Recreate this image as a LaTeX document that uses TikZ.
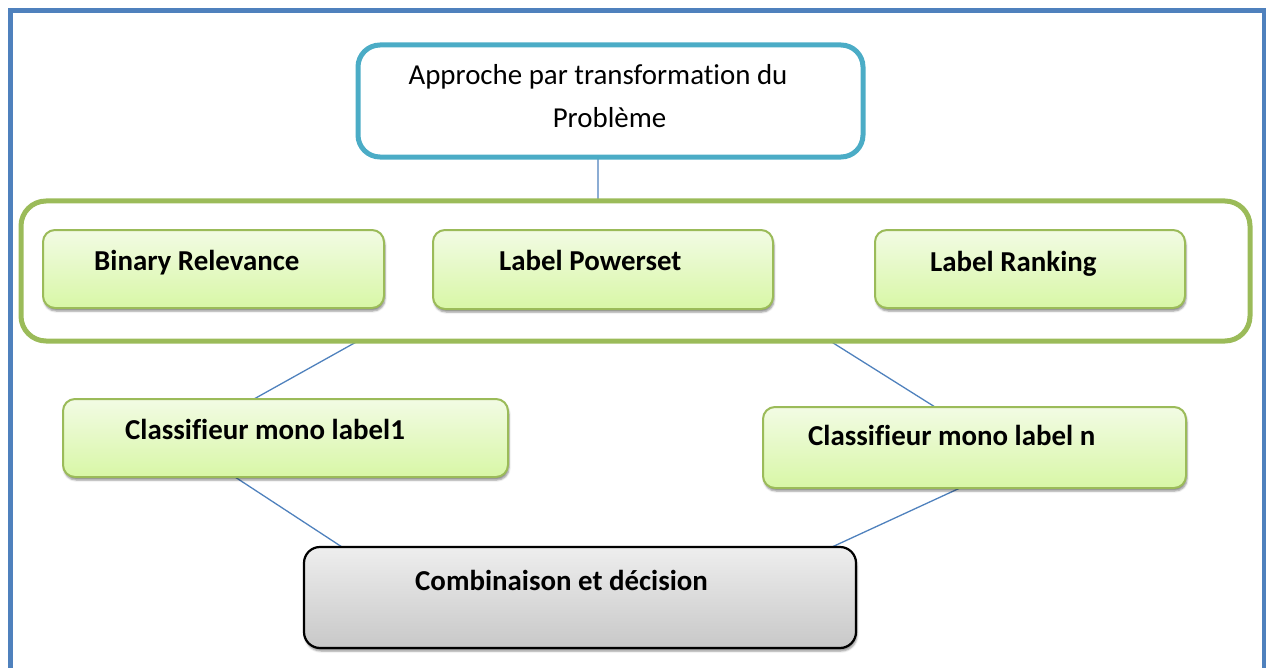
\documentclass[tikz,border=0pt]{standalone}
\usepackage{fontspec}
\setmainfont{Carlito}[Ligatures=NoCommon]
\usetikzlibrary{shadows.blur,backgrounds}

\definecolor{frameblue}{RGB}{79,129,189}
\definecolor{titlecyan}{RGB}{75,172,198}
\definecolor{olivegreen}{RGB}{155,187,89}
\definecolor{greentop}{RGB}{242,251,228}
\definecolor{greenbot}{RGB}{216,247,166}
\definecolor{graytop}{RGB}{238,238,238}
\definecolor{graybot}{RGB}{200,200,200}

\tikzset{
  box/.style={rectangle, anchor=north west, inner sep=0pt, outer sep=0pt},
  softshadow/.style={blur shadow={shadow xshift=1bp, shadow yshift=-3bp,
      shadow blur steps=4, shadow blur radius=2bp, shadow opacity=45}},
  greenbox/.style={box, rounded corners=12bp, draw=olivegreen, line width=2bp,
      top color=greentop, bottom color=greenbot, softshadow},
  graybox/.style={box, rounded corners=16bp, draw=black, line width=2.2bp,
      top color=graytop, bottom color=graybot, softshadow},
  txt/.style={anchor=base west, inner sep=0pt, font=\fontsize{29}{35}\selectfont},
  btxt/.style={txt, font=\fontsize{29}{35}\selectfont\bfseries},
  link/.style={draw=frameblue, line width=1.3bp},
}

\begin{document}
\begin{tikzpicture}[x=1bp, y=-1bp]
  \path[use as bounding box, clip] (0,0) rectangle (1266,668);

  % page frame, open at the bottom
  \draw[frameblue, line width=5bp] (10.5,700) -- (10.5,10.5) -- (1264,10.5) -- (1264,700);

  % title box
  \node[box, draw=titlecyan, line width=5bp, rounded corners=22bp,
        minimum width=505bp, minimum height=112bp] (top) at (358,45) {};
  \node[txt, anchor=base] (t1) at (598,85) {Approche par transformation du};
  \node[txt, anchor=base] (t2) at (609.5,128) {Problème};

  % group of transformation methods
  \node[box, draw=olivegreen, line width=5bp, rounded corners=25bp,
        minimum width=1229bp, minimum height=140bp] (grp) at (21,201) {};
  \node[greenbox, minimum width=341bp, minimum height=78bp] (br) at (43,230) {};
  \node[greenbox, minimum width=340bp, minimum height=79bp] (lp) at (433,230) {};
  \node[greenbox, minimum width=310bp, minimum height=78bp] (lr) at (875,230) {};
  \node[btxt] (brt) at (94,270) {Binary Relevance};
  \node[btxt] (lpt) at (499,270) {Label Powerset};
  \node[btxt] (lrt) at (930,271) {Label Ranking};

  % single-label classifiers
  \node[greenbox, minimum width=445bp, minimum height=78bp] (c1) at (63,399) {};
  \node[greenbox, minimum width=423bp, minimum height=81bp] (cn) at (763,407) {};
  \node[btxt] (c1t) at (125,439) {Classifieur mono label1};
  \node[btxt] (cnt) at (808,445) {Classifieur mono label n};

  % combination
  \node[graybox, minimum width=552bp, minimum height=101bp] (cd) at (304,547) {};
  \node[btxt] (cdt) at (415,590) {Combinaison et décision};

  % connectors
  \begin{scope}[on background layer]
    \draw[link] ([xshift=-12.5bp]top.south) -- ([xshift=-37.5bp]grp.north);
    \draw[link] ([xshift=-277.5bp]grp.south) -- ([xshift=-31.5bp]c1.north);
    \draw[link] ([xshift=194.5bp]grp.south) -- ([xshift=-39.5bp]cn.north);
    \draw[link] ([xshift=-50.5bp]c1.south) -- ([xshift=-238bp]cd.north);
    \draw[link] ([xshift=-14.5bp]cn.south) -- ([xshift=252bp]cd.north);
  \end{scope}
\end{tikzpicture}
\end{document}
